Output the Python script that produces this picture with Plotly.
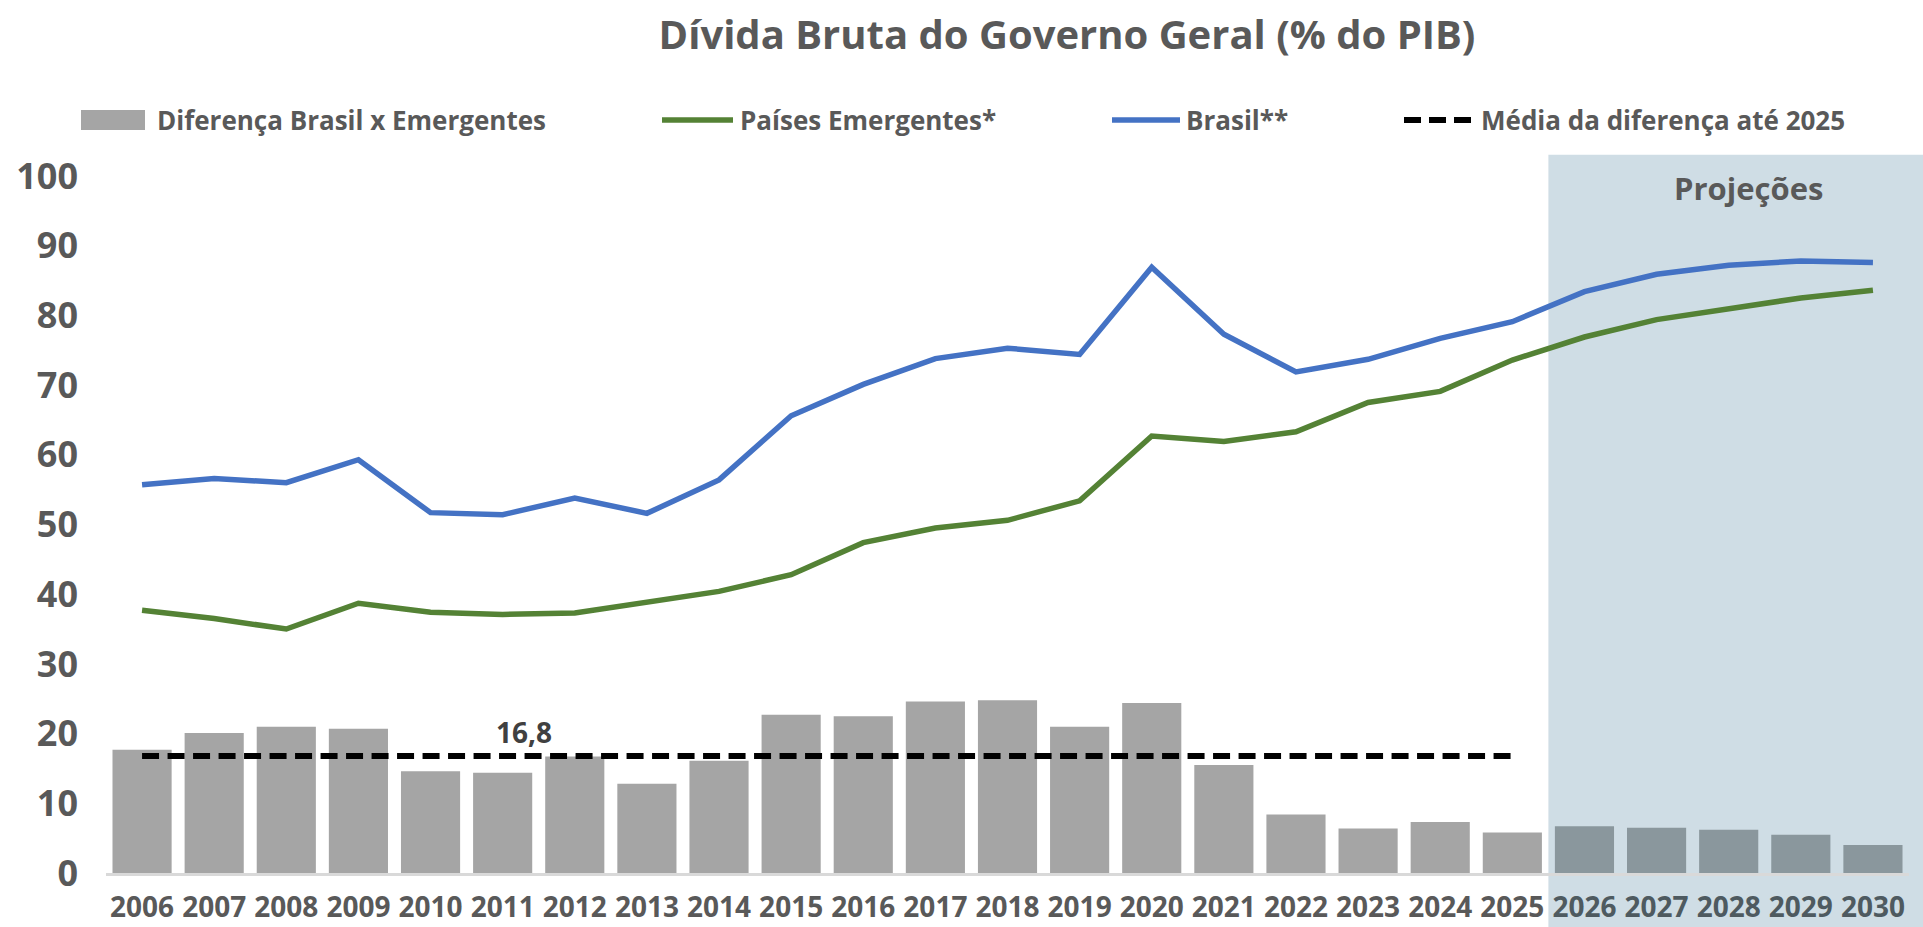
import plotly.graph_objects as go

# ---------------- data ----------------
anos = list(range(2006, 2031))
brasil = [55.7, 56.6, 56.0, 59.3, 51.7, 51.4, 53.8, 51.6, 56.4, 65.6, 70.1, 73.8, 75.3,
          74.4, 86.9, 77.3, 71.9, 73.7, 76.7, 79.1, 83.4, 85.9, 87.2, 87.8, 87.6]
emergentes = [37.7, 36.5, 35.0, 38.7, 37.4, 37.1, 37.3, 38.9, 40.4, 42.8, 47.4, 49.5, 50.6,
              53.4, 62.7, 61.9, 63.3, 67.5, 69.1, 73.6, 76.9, 79.4, 81.0, 82.5, 83.6]
diferenca = [17.7, 20.1, 21.0, 20.7, 14.6, 14.4, 16.7, 12.8, 16.1, 22.7, 22.5, 24.6, 24.8,
             21.0, 24.4, 15.5, 8.4, 6.4, 7.3, 5.8, 6.7, 6.5, 6.2, 5.5, 4.0]
media_diferenca = 16.8
ano_fim_media = 2025
primeiro_ano_projecao = 2026
y_ticks = list(range(0, 101, 10))

# ---------------- styles ----------------
FONT = "'Open Sans', Lato, sans-serif"
TXT = "#595959"
GRAY = "#A5A5A5"
GRAY_PROJ = "#8A979D"
GREEN = "#548235"
BLUE = "#4472C4"
SHADE = "#CFDDE5"

W, H = 1923, 927
ML, MR, MT, MB = 106, 14, 176, 54
PW, PH = W - ML - MR, H - MT - MB


def px_x(px):
    return (px - ML) / PW


def px_y(py):
    return (H - MB - py) / PH


x_min, x_max = anos[0] - 0.5, anos[-1] + 0.5

fig = go.Figure()

bar_colors = [GRAY if a < primeiro_ano_projecao else GRAY_PROJ for a in anos]
fig.add_trace(go.Bar(x=anos, y=diferenca, marker=dict(color=bar_colors, line=dict(width=0)),
                     name="Diferença Brasil x Emergentes", showlegend=False))
fig.add_trace(go.Scatter(x=anos, y=emergentes, mode="lines", line=dict(color=GREEN, width=5.5),
                         name="Países Emergentes*", showlegend=False))
fig.add_trace(go.Scatter(x=anos, y=brasil, mode="lines", line=dict(color=BLUE, width=5.5),
                         name="Brasil**", showlegend=False))
anos_media = [a for a in anos if a <= ano_fim_media]
fig.add_trace(go.Scatter(x=anos_media, y=[media_diferenca] * len(anos_media), mode="lines",
                         line=dict(color="black", width=6, dash="17px,8.5px"),
                         name="Média da diferença até 2025", showlegend=False))

# projection shading
shapes = [dict(type="rect", xref="paper", yref="paper",
               x0=(primeiro_ano_projecao - 0.5 - x_min) / (x_max - x_min), x1=px_x(W) + 0.01,
               y0=px_y(H) - 0.01, y1=px_y(154.7),
               fillcolor=SHADE, line=dict(width=0), layer="below")]

# manual legend
ly = 120
shapes.append(dict(type="rect", xref="paper", yref="paper", x0=px_x(81), x1=px_x(145),
                   y0=px_y(130), y1=px_y(110), fillcolor=GRAY, line=dict(width=0)))
shapes.append(dict(type="line", xref="paper", yref="paper", x0=px_x(662), x1=px_x(733),
                   y0=px_y(ly), y1=px_y(ly), line=dict(color=GREEN, width=5.5)))
shapes.append(dict(type="line", xref="paper", yref="paper", x0=px_x(1112), x1=px_x(1180),
                   y0=px_y(ly), y1=px_y(ly), line=dict(color=BLUE, width=5.5)))
shapes.append(dict(type="line", xref="paper", yref="paper", x0=px_x(1404), x1=px_x(1472),
                   y0=px_y(ly), y1=px_y(ly), line=dict(color="black", width=6, dash="17px,8px")))

legend_items = [("Diferença Brasil x Emergentes", 155), ("Países Emergentes*", 738),
                ("Brasil**", 1184), ("Média da diferença até 2025", 1479)]
annotations = []
for txt, xpx in legend_items:
    annotations.append(dict(text=txt, xref="paper", yref="paper", x=px_x(xpx), y=px_y(ly),
                            xanchor="left", yanchor="middle", showarrow=False,
                            font=dict(family=FONT, size=26, color=TXT, weight="bold")))

annotations.append(dict(text=f"{media_diferenca:.1f}".replace(".", ","), x=2011.3, y=20.3,
                        xref="x", yref="y", showarrow=False,
                        font=dict(family=FONT, size=28, color="#404040", weight="bold")))
annotations.append(dict(text="Projeções", x=2028.27, y=98.3, xref="x", yref="y", showarrow=False,
                        font=dict(family=FONT, size=31, color=TXT, weight="bold")))

ticktext = [str(a) if a < primeiro_ano_projecao else f"<span style='color:#4E5A60'>{a}</span>"
            for a in anos]

fig.update_layout(
    width=W, height=H,
    margin=dict(l=ML, r=MR, t=MT, b=MB, pad=0),
    paper_bgcolor="white", plot_bgcolor="rgba(0,0,0,0)",
    font=dict(family=FONT, color=TXT),
    title=dict(text="Dívida Bruta do Governo Geral (% do PIB)", x=1067 / W, xanchor="center",
               xref="container", yref="container", y=1 - 35 / H, yanchor="middle",
               font=dict(family=FONT, size=40, color=TXT, weight="bold")),
    bargap=0.18,
    showlegend=False,
    shapes=shapes,
    annotations=annotations,
    xaxis=dict(range=[x_min, x_max], tickvals=anos, ticktext=ticktext, tickangle=0,
               automargin=False,
               showgrid=False, zeroline=False, showline=True, linecolor="#D9D9D9", linewidth=2.5,
               ticks="", ticklabelstandoff=8,
               tickfont=dict(family=FONT, size=28, color=TXT, weight="bold")),
    yaxis=dict(range=[0, 100], tickvals=y_ticks, showgrid=False, zeroline=False, showline=False,
               automargin=False,
               ticks="", ticklabelstandoff=27,
               tickfont=dict(family=FONT, size=36, color=TXT, weight="bold")),
)

fig.write_html(
    "out.html",
    config={"displayModeBar": False},
    post_script="document.body.style.margin='0';document.body.style.padding='0';"
                "document.body.style.overflow='hidden';",
)
